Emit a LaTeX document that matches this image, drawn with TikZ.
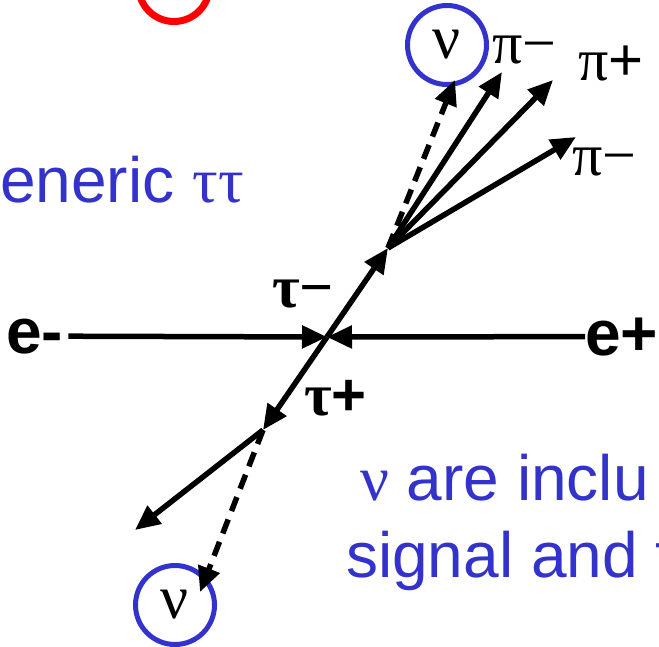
\documentclass[tikz,border=0pt]{standalone}
\usepackage{fontspec}
\setmainfont{Liberation Sans}
\newfontfamily\greekfont{Liberation Serif}
\usetikzlibrary{arrows.meta, positioning}
\definecolor{slideblue}{RGB}{51,51,204}

\begin{document}
\begin{tikzpicture}[x=1pt,y=-1pt,>={Triangle[length=25pt,width=22pt]},
        track/.style={line width=5.5pt},
        nutrack/.style={line width=5.5pt,dash pattern=on 15pt off 9pt},
        nucirc/.style={draw=slideblue,line width=5pt,circle,minimum size=79pt,
          inner sep=0pt,font=\greekfont\fontsize{62}{62}\selectfont},
        plabel/.style={anchor=base west,inner sep=0pt,
          font=\greekfont\fontsize{60}{60}\selectfont},
        tlabel/.style={anchor=base west,inner sep=0pt,
          font=\greekfont\bfseries\fontsize{60}{60}\selectfont},
        elabel/.style={anchor=base west,inner sep=0pt,
          font=\bfseries\fontsize{64}{64}\selectfont},
        bluetext/.style={anchor=base west,inner sep=0pt,text=slideblue,
          font=\fontsize{64}{77}\selectfont}]
      \path[use as bounding box] (0,0) rectangle (659,646);
      \clip (0,0) rectangle (659,646);
      % vertices
      \coordinate (vtx) at (327,337);
      \coordinate (up) at (388,248);
      \coordinate (dn) at (263,430);
      % beams
      \node[elabel] (em) at (6,353) {e-};
      \node[elabel] (ep) at (585,355) {e+};
      \draw[track,->,shorten <=5pt] (em) -- (vtx);
      \draw[track,->] (ep) -- (vtx);
      % tau pair
      \draw[track,->] (vtx) -- (up);
      \draw[track,->] (vtx) -- (dn);
      \node[tlabel] (taum) at (272,307) {τ−};
      \node[tlabel] (taup) at (304,415) {τ{\rmfamily\bfseries +}};
      % tau- decay
      \node[nucirc] (nuup) at (447,45) {ν};
      \node[plabel] (pia) at (492,63) {π−};
      \node[plabel] (pib) at (578,80) {π{\rmfamily +}};
      \node[plabel] (pic) at (572,175) {π−};
      \coordinate (nuuptip) at (455,80);
      \coordinate (piatip) at (502,72);
      \coordinate (pibtip) at (553,80);
      \coordinate (pictip) at (576,137);
      \draw[nutrack,->] (up) -- (nuuptip);
      \draw[track,->] (up) -- (piatip);
      \draw[track,->] (up) -- (pibtip);
      \draw[track,->] (up) -- (pictip);
      % tau+ decay
      \node[nucirc] (nudn) at (175,605) {ν};
      \coordinate (trktip) at (135,530);
      \coordinate (nudntip) at (200,592);
      \draw[track,->] (dn) -- (trktip);
      \draw[nutrack,->] (dn) -- (nudntip);
      % slide leftovers
      \node[draw=red,line width=7pt,circle,minimum size=71pt] (tag) at (174,-14) {};
      \node[bluetext] (gen) at (0,202) {eneric {\greekfont ττ}};
      \node[bluetext] (incl) at (360,500) {{\greekfont ν} are inclu};
      \node[bluetext] (sig) at (346,577) {signal and t};
    \end{tikzpicture}
\end{document}
